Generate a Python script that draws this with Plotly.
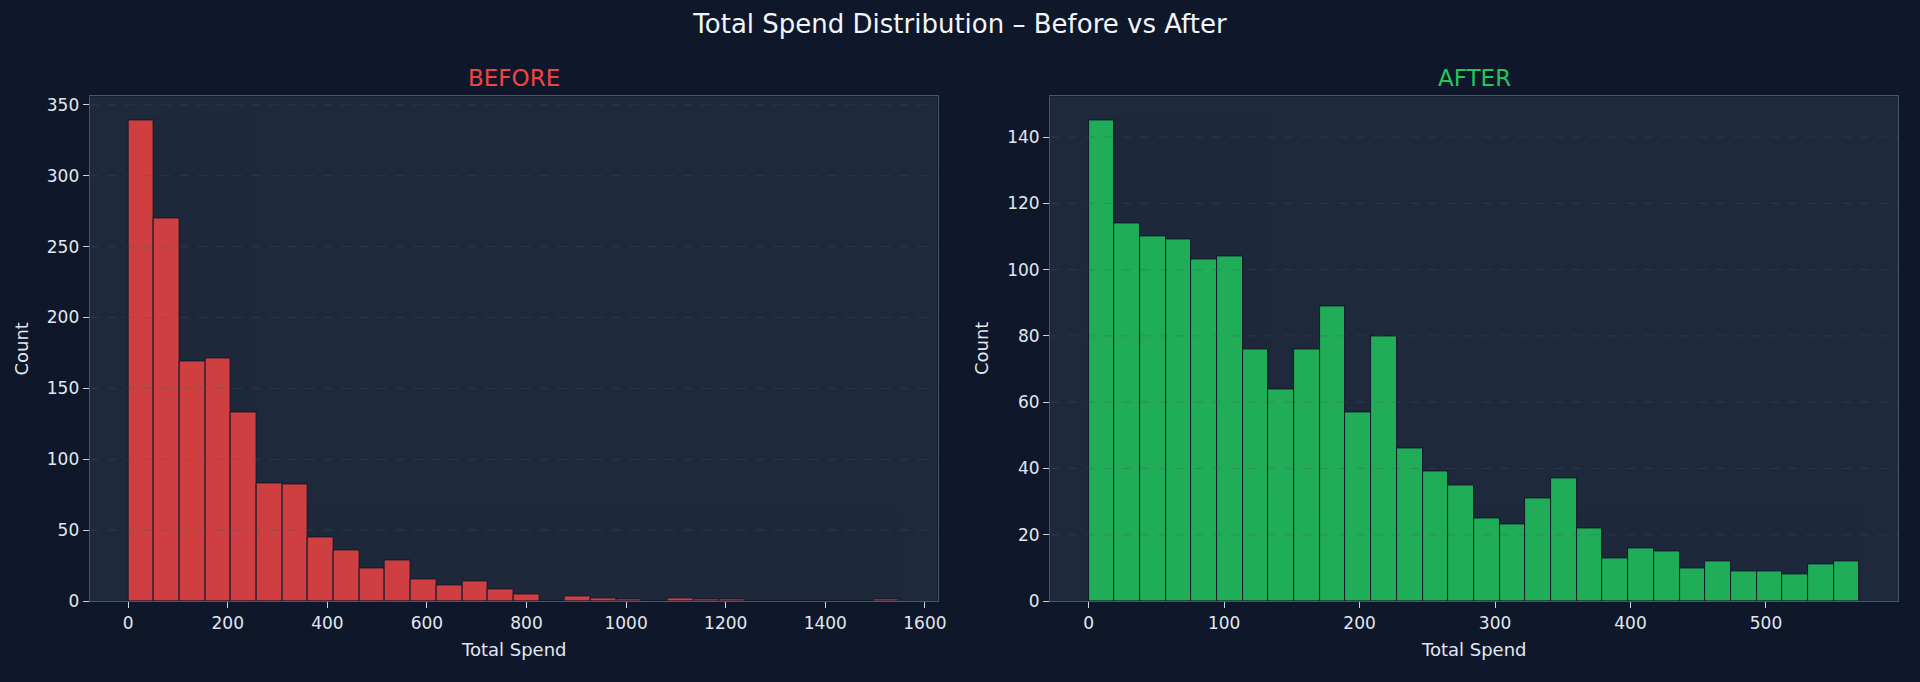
"""Total spend histogram, before vs after."""

import numpy as np
import plotly.graph_objects as go

# histogram counts (30 equal-width bins each)
before_counts = [339, 270, 169, 171, 133, 83, 82, 45, 36, 23,
                 29, 15, 11, 14, 8, 5, 0, 3, 2, 1,
                 0, 2, 1, 1, 0, 0, 0, 0, 0, 1]
after_counts = [145, 114, 110, 109, 103, 104, 76, 64, 76, 89,
                57, 80, 46, 39, 35, 25, 23, 31, 37, 22,
                13, 16, 15, 10, 12, 9, 9, 8, 11, 12]

# data range covered by the bins
before_range = (0.0, 1548.0)
after_range = (0.0, 569.0)

before_xticks = [0, 200, 400, 600, 800, 1000, 1200, 1400, 1600]
after_xticks = [0, 100, 200, 300, 400, 500]
before_yticks = [0, 50, 100, 150, 200, 250, 300, 350]
after_yticks = [0, 20, 40, 60, 80, 100, 120, 140]

FIG_BG = "#0f172a"
PLOT_BG = "#1e293b"
TEXT = "#e2e8f0"
RED = "#ef4444"
GREEN = "#22c55e"
FONT = "DejaVu Sans"


def bins(rng, n):
    edges = np.linspace(rng[0], rng[1], n + 1)
    return (edges[:-1] + edges[1:]) / 2, edges[1] - edges[0]


fig = go.Figure()

panels = [
    ("x", "y", before_counts, before_range, before_xticks, before_yticks, RED, "BEFORE", [0.0469, 0.4906]),
    ("x2", "y2", after_counts, after_range, after_xticks, after_yticks, GREEN, "AFTER", [0.5495, 0.9932]),
]

for xa, ya, counts, rng, xt, yt, color, label, dom in panels:
    centers, width = bins(rng, len(counts))
    fig.add_trace(
        go.Bar(
            x=centers,
            y=counts,
            width=width,
            xaxis=xa,
            yaxis=ya,
            marker=dict(color=color, line=dict(color=FIG_BG, width=1)),
            opacity=0.85,
            showlegend=False,
        )
    )

    span = rng[1] - rng[0]
    xkey = "xaxis" if xa == "x" else "xaxis2"
    ykey = "yaxis" if ya == "y" else "yaxis2"
    axis_style = dict(
        showline=True,
        linecolor="#475569",
        linewidth=1,
        mirror=True,
        ticks="outside",
        ticklen=6,
        tickcolor="#cbd5e1",
        tickfont=dict(family=FONT, size=17, color=TEXT),
        zeroline=False,
    )
    fig.update_layout(
        {
            xkey: dict(
                domain=dom,
                anchor=ya,
                range=[rng[0] - 0.05 * span, rng[1] + 0.05 * span],
                tickvals=xt,
                showgrid=False,
                **axis_style,
            ),
            ykey: dict(
                domain=[0.1056, 0.8578],
                anchor=xa,
                range=[0, max(counts) * 1.05],
                tickvals=yt,
                showgrid=False,
                **axis_style,
            ),
        }
    )

    # dashed horizontal grid drawn over the bars
    for v in yt[1:]:
        fig.add_shape(
            type="line",
            xref=f"{xa} domain",
            yref=ya,
            x0=0,
            x1=1,
            y0=v,
            y1=v,
            layer="above",
            line=dict(color="rgba(71,85,105,0.35)", width=1, dash="dash"),
        )

    fig.add_annotation(
        text=label,
        xref=f"{xa} domain",
        yref="paper",
        x=0.5,
        y=0.8856,
        xanchor="center",
        yanchor="middle",
        showarrow=False,
        font=dict(family=FONT, size=23, color=color),
    )
    fig.add_annotation(
        text="Total Spend",
        xref=f"{xa} domain",
        yref="paper",
        x=0.5,
        y=0.034,
        xanchor="center",
        yanchor="middle",
        showarrow=False,
        font=dict(family=FONT, size=18, color=TEXT),
    )
    fig.add_annotation(
        text="Count",
        xref=f"{xa} domain",
        yref=f"{ya} domain",
        x=-0.08,
        y=0.5,
        xanchor="center",
        yanchor="middle",
        textangle=-90,
        showarrow=False,
        font=dict(family=FONT, size=18, color=TEXT),
    )

fig.update_layout(
    width=1920,
    height=682,
    margin=dict(l=0, r=0, t=0, b=0),
    paper_bgcolor=FIG_BG,
    plot_bgcolor=PLOT_BG,
    bargap=0,
    title=dict(
        text="Total Spend Distribution – Before vs After",
        x=0.5,
        xanchor="center",
        y=0.965,
        yanchor="middle",
        font=dict(family=FONT, size=26, color="#f1f5f9"),
    ),
)

# drop the default page margin and any stray line box under the plot
page_css = (
    "document.body.style.margin = '0';"
    "document.body.style.lineHeight = '0';"
    "document.body.style.overflow = 'hidden';"
    "document.body.style.background = '" + FIG_BG + "';"
)

fig.write_html("out.html", config={"displayModeBar": False}, post_script=page_css)
